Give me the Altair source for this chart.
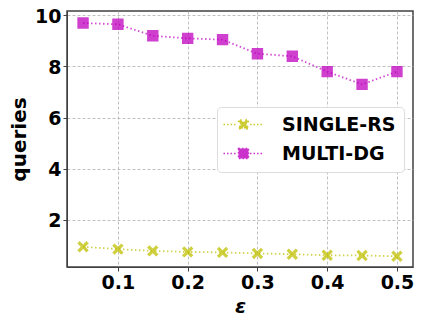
import altair as alt
import pandas as pd

eps = [0.05, 0.1, 0.15, 0.2, 0.25, 0.3, 0.35, 0.4, 0.45, 0.5]
single_rs = [0.95, 0.86, 0.79, 0.75, 0.73, 0.69, 0.66, 0.62, 0.61, 0.58]
multi_dg = [9.7, 9.65, 9.2, 9.1, 9.05, 8.5, 8.4, 7.8, 7.3, 7.8]
series = ["SINGLE-RS", "MULTI-DG"]
colors = ["#bfbf00", "#bf00bf"]

# marker + legend-line paths (line parts only visible where stroke is drawn: the legend)
x_path = ("M-4,0L-1.3,0M1.3,0L4,0"
          "M-0.6,-1L0,-0.4L0.6,-1L1,-0.6L0.4,0L1,0.6L0.6,1L0,0.4L-0.6,1L-1,0.6L-0.4,0L-1,-0.6Z")
sq_path = "M-4,0L-1.3,0M1.3,0L4,0M-1,-1L1,-1L1,1L-1,1Z"
shapes = [x_path, sq_path]

rows = []
for e, a, b in zip(eps, single_rs, multi_dg):
    rows.append({"eps": e, "queries": a, "series": series[0]})
    rows.append({"eps": e, "queries": b, "series": series[1]})
df = pd.DataFrame(rows)

xs = alt.X("eps:Q", title="ε",
           scale=alt.Scale(domain=[0.027, 0.523], nice=False, zero=False),
           axis=alt.Axis(values=[0.1, 0.2, 0.3, 0.4, 0.5], format=".1f",
                         titleFontStyle="italic"))
ys = alt.Y("queries:Q", title="queries",
           scale=alt.Scale(domain=[0.16, 10.17], nice=False, zero=False),
           axis=alt.Axis(values=[2, 4, 6, 8, 10], labelOffset=1))

base = alt.Chart(df)

line_layers = [
    base.transform_filter(alt.datum.series == s)
    .mark_line(strokeDash=[1.5, 2.5], strokeWidth=1.8, opacity=0.7, color=c)
    .encode(x=xs, y=ys)
    for s, c in zip(series, colors)
]

points = base.mark_point(filled=True, size=130, strokeWidth=0, fillOpacity=0.75).encode(
    x=xs, y=ys,
    fill=alt.Fill("series:N", scale=alt.Scale(domain=series, range=colors), title=None),
    stroke=alt.Stroke("series:N", scale=alt.Scale(domain=series, range=colors), title=None),
    shape=alt.Shape("series:N", scale=alt.Scale(domain=series, range=shapes), title=None),
)

chart = alt.layer(*line_layers, points).properties(
    width=346, height=256,
    autosize=alt.AutoSizeParams(type="none"),
    padding={"left": 59, "top": 3, "right": 2, "bottom": 50},
).configure_view(
    stroke="#404040", strokeWidth=1.5,
).configure_axis(
    labelFont="DejaVu Sans", labelFontWeight="bold", labelFontSize=19, labelColor="black",
    titleFont="DejaVu Sans", titleFontWeight="bold", titleFontSize=20, titleColor="black",
    grid=True, gridColor="#b0b0b0", gridDash=[3, 2], gridWidth=0.8,
    domainColor="#404040", tickColor="#404040", tickSize=4, labelPadding=2,
).configure_axisY(
    titlePadding=5,
).configure_axisX(
    titlePadding=4,
).configure_legend(
    orient="none", legendX=150, legendY=96,
    fillColor="white", strokeColor="#dddddd", cornerRadius=4, padding=8,
    labelFont="DejaVu Sans", labelFontWeight="bold", labelFontSize=19, labelColor="black",
    symbolSize=100, symbolStrokeWidth=1.5, symbolDash=[1.5, 2], symbolOpacity=0.8,
    rowPadding=9, symbolOffset=9, labelOffset=29,
)

chart.save("out.html", embed_options={"renderer": "svg", "actions": False})
